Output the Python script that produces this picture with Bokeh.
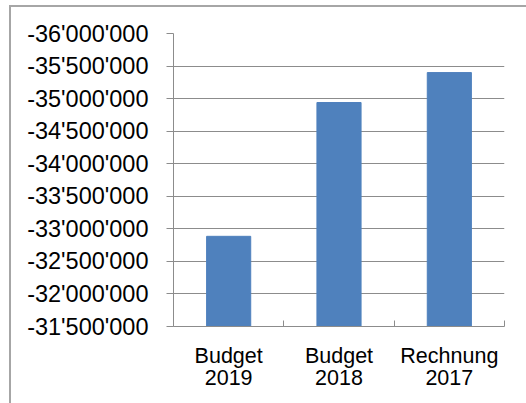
from bokeh.plotting import figure
from bokeh.models import (Range1d, FixedTicker, SingleIntervalTicker, CustomJSTickFormatter,
                          ColumnDataSource)
from bokeh.embed import file_html
from bokeh.resources import INLINE

categories = ["Budget\n2019", "Budget\n2018", "Rechnung\n2017"]
values = [-32885000, -34940000, -35400000]
y_start = -31500000
y_end = -36000000
y_step = 500000

xpos = [i + 0.5 for i in range(len(categories))]
src = ColumnDataSource(dict(x=xpos, top=values, cat=categories))

p = figure(output_backend="svg", toolbar_location=None,
           frame_width=331, frame_height=293,
           min_border_left=162, min_border_right=22, min_border_top=26, min_border_bottom=77,
           x_range=Range1d(0, len(categories)), y_range=Range1d(y_start, y_end),
           background_fill_color="white", border_fill_color="white")
p.styles = {"margin-left": "9px", "margin-top": "5px",
            "border-left": "2px solid #a6a6a6", "border-top": "2px solid #a6a6a6"}
p.outline_line_color = None

p.vbar(x="x", top="top", bottom=y_start, width=0.4, source=src,
       fill_color="#4F81BD", line_color="#4F81BD")

grid_color = "#8c8c8c"
font = "Liberation Sans"

# x axis
xa = p.xaxis[0]
xa.ticker = FixedTicker(ticks=xpos, minor_ticks=list(range(len(categories) + 1)))
xa.major_label_overrides = {x: c for x, c in zip(xpos, categories)}
xa.major_tick_line_color = None
xa.minor_tick_in = 6
xa.minor_tick_out = 0
xa.minor_tick_line_color = grid_color
xa.axis_line_color = grid_color
xa.major_label_text_font = font
xa.major_label_text_font_size = "21.5px"
xa.major_label_text_color = "black"
xa.major_label_standoff = 11
xa.major_label_text_line_height = 0.92

# y axis
ya = p.yaxis[0]
ya.ticker = SingleIntervalTicker(interval=y_step, num_minor_ticks=0)
ya.formatter = CustomJSTickFormatter(code="""
const s = Math.abs(tick).toFixed(0).replace(/\\B(?=(\\d{3})+(?!\\d))/g, "'");
return (tick < 0 ? "-" : "") + s;
""")
ya.major_tick_in = 0
ya.major_tick_out = 7
ya.minor_tick_line_color = None
ya.major_tick_line_color = grid_color
ya.axis_line_color = grid_color
ya.major_label_text_font = font
ya.major_label_text_font_size = "23.5px"
ya.major_label_text_color = "black"
ya.major_label_standoff = 18

p.xgrid.grid_line_color = None
p.ygrid.grid_line_color = grid_color
p.ygrid.ticker = ya.ticker

open("out.html", "w").write(file_html(p, INLINE))
